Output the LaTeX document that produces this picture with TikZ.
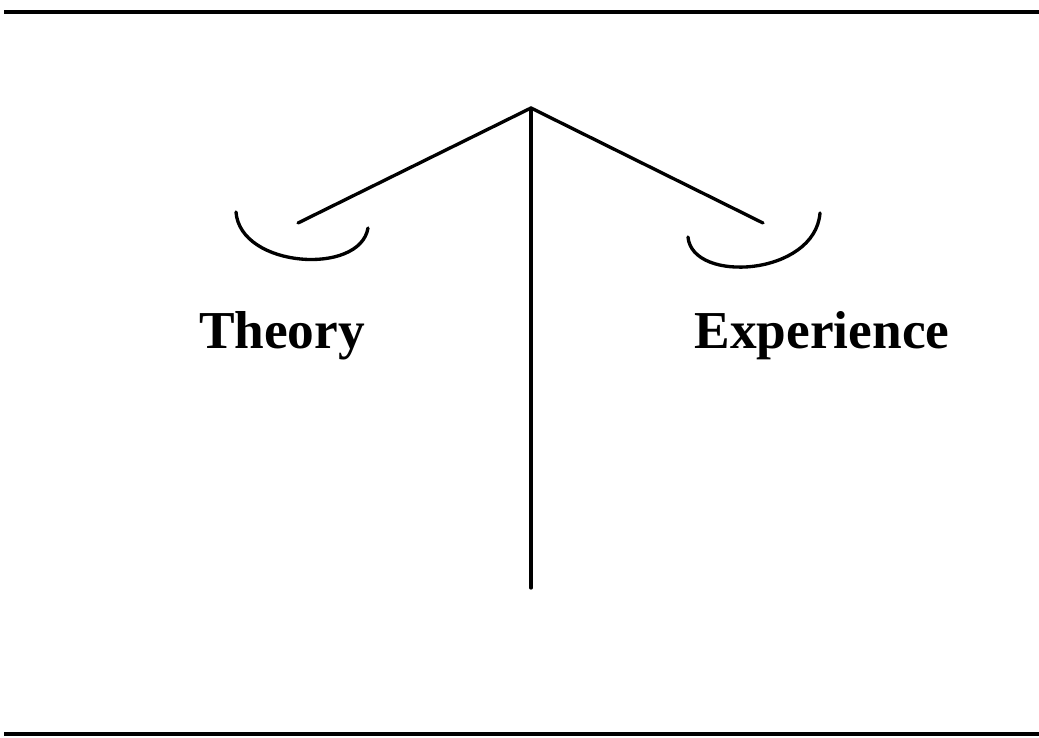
\documentclass[tikz,border=0pt]{standalone}
\usepackage{fontspec}
\setmainfont{Liberation Serif}

\begin{document}
\begin{tikzpicture}[
    x=0.75pt, y=-0.75pt,
    every node/.style={font=\rmfamily},
    rule/.style={line width=3pt},
    beam/.style={line width=2.5pt, line cap=round, line join=round},
    label/.style={
        anchor=base,
        inner sep=0pt,
        font=\rmfamily\bfseries\fontsize{40}{48}\selectfont
    }
]

\useasboundingbox (0, 0) rectangle (1039, 738);

\draw[rule] (4, 12) -- (1039, 12);
\draw[rule] (4, 734) -- (1039, 734);

\coordinate (apex) at (531, 108);
\coordinate (foot) at (531, 588);
\coordinate (leftarm) at (298, 223);
\coordinate (rightarm) at (763, 223);

\draw[beam] (apex) -- (foot);
\draw[beam] (leftarm) -- (apex) -- (rightarm);

\draw[beam] (236, 212) .. controls (240, 268) and (360, 276) .. (368, 228);
\draw[beam] (688, 237) .. controls (692, 284) and (815, 276) .. (820, 213);

\node[label] (theory) at (282, 348) {Theory};
\node[label] (experience) at (822, 348) {Experience};

\end{tikzpicture}
\end{document}
